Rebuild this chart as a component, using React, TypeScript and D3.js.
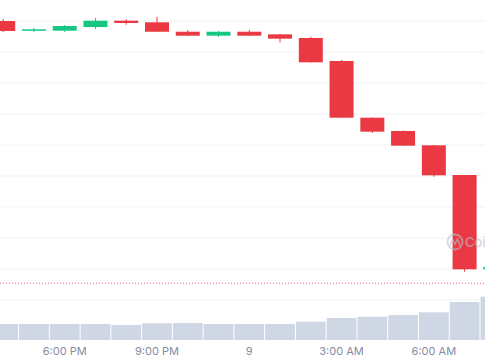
import React from 'react';
import * as d3 from 'd3';

const width = 485;
const height = 360;

// hourly candles, starting 4:00 PM on the 8th
const hours = [16, 17, 18, 19, 20, 21, 22, 23, 24, 25, 26, 27, 28, 29, 30, 31, 32];
const opens = [2.600, 2.5844, 2.5844, 2.5903, 2.6005, 2.5979, 2.5827, 2.5763, 2.5827, 2.5785, 2.5726, 2.5355, 2.444, 2.4226, 2.3995, 2.3516, 2.1995];
const closes = [2.5839, 2.5866, 2.5919, 2.6005, 2.5968, 2.5827, 2.5763, 2.5827, 2.5763, 2.5715, 2.5334, 2.444, 2.4215, 2.3989, 2.3511, 2.1995, 2.2032];
const highs = [2.6032, 2.5887, 2.5935, 2.6048, 2.6027, 2.6069, 2.5855, 2.5839, 2.5855, 2.579, 2.5747, 2.5371, 2.4444, 2.4234, 2.40, 2.3516, 2.2048];
const lows = [2.5823, 2.5823, 2.5823, 2.5871, 2.594, 2.5823, 2.5758, 2.5742, 2.5758, 2.5656, 2.5331, 2.4435, 2.4194, 2.3984, 2.3489, 2.1956, 2.1984];
const volumes = [16.0, 16.0, 16.0, 16.0, 15.0, 16.7, 17.0, 16.0, 16.0, 16.0, 18.3, 22.0, 23.3, 25.0, 27.7, 38.0, 43.3];

const tickHours = [18, 21, 24, 27, 30];
const tickLabels = ['6:00 PM', '9:00 PM', '9', '3:00 AM', '6:00 AM'];
const gridValues = [2.15, 2.20, 2.25, 2.30, 2.35, 2.40, 2.45, 2.50, 2.55, 2.60];
const lastPrice = 2.177;

const hourDate = (h: number) => new Date(2024, 0, 8, h);

const x = d3.scaleTime()
  .domain([hourDate(16), hourDate(31)])
  .range([3.2, 464.6]);

const y = d3.scaleLinear()
  .domain([2.20, 2.60])
  .range([269, 21]);

const yVol = d3.scaleLinear()
  .domain([0, 100])
  .range([340, 240]);

const step = x(hourDate(17)) - x(hourDate(16));
const candleW = 24;
const red = '#ea3943';
const green = '#16c784';

const App = () => {
  return (
    <svg
      width={width}
      height={height}
      style={{ position: 'fixed', left: 0, top: 0, background: '#fff' }}
      fontFamily="Inter, sans-serif"
    >
      {gridValues.map(v => (
        <line key={v} x1={0} x2={width} y1={y(v)} y2={y(v)} stroke="#f2f3f6" strokeWidth={1} />
      ))}

      {volumes.map((v, i) => (
        <rect
          key={'v' + i}
          x={x(hourDate(hours[i])) - step / 2 + 0.5}
          y={yVol(v)}
          width={step - 1}
          height={yVol(0) - yVol(v)}
          fill="#cfd6e4"
        />
      ))}

      <line
        x1={0}
        x2={width}
        y1={y(lastPrice)}
        y2={y(lastPrice)}
        stroke={red}
        strokeWidth={1}
        strokeDasharray="1,2"
        opacity={0.8}
      />

      {hours.map((h, i) => {
        const cx = x(hourDate(h));
        const up = closes[i] >= opens[i];
        const color = up ? green : red;
        const top = y(Math.max(opens[i], closes[i]));
        const bottom = y(Math.min(opens[i], closes[i]));
        return (
          <g key={'c' + i}>
            <line x1={cx} x2={cx} y1={y(highs[i])} y2={y(lows[i])} stroke={color} strokeWidth={1} />
            <rect
              x={cx - candleW / 2}
              y={top}
              width={candleW}
              height={Math.max(1.5, bottom - top)}
              fill={color}
            />
          </g>
        );
      })}

      {/* watermark, only the start of it is visible at the right edge */}
      <g opacity={0.6}>
        <circle cx={455} cy={242} r={7.5} fill="none" stroke="#b8bfcc" strokeWidth={1.8} />
        <path d="M450,246 L452.5,239 L455,244 L457.5,239 L460,246" fill="none" stroke="#b8bfcc" strokeWidth={1.6} />
        <text x={465} y={247} fontSize={13} fontWeight={600} fill="#b8bfcc">Coi</text>
      </g>

      {tickHours.map((h, i) => (
        <text
          key={'t' + h}
          x={x(hourDate(h))}
          y={354.5}
          textAnchor="middle"
          fontSize={11}
          fill="#858ca2"
        >
          {tickLabels[i]}
        </text>
      ))}
    </svg>
  );
};

export default App;
